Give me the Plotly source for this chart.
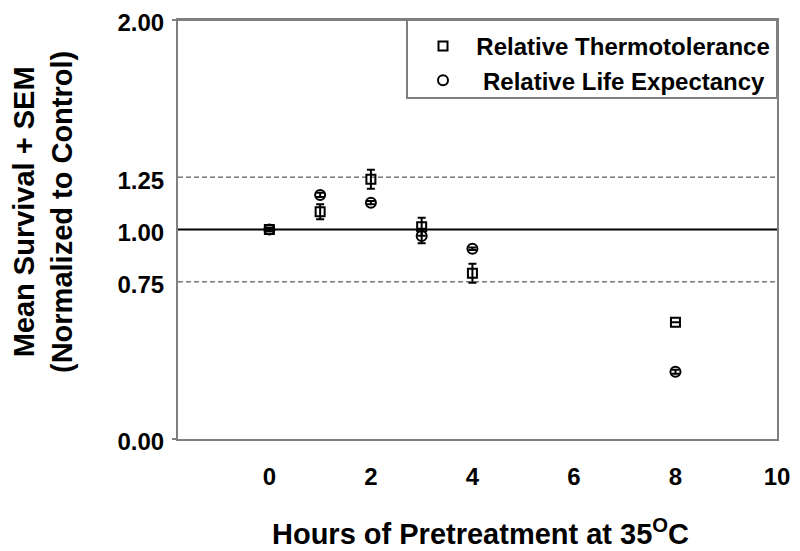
import plotly.graph_objects as go

hours = [0, 1, 2, 3, 4, 8]
thermo = [1.00, 1.085, 1.24, 1.013, 0.791, 0.557]
thermo_sem = [0.008, 0.036, 0.045, 0.043, 0.045, None]
life = [1.00, 1.165, 1.128, 0.969, 0.908, 0.321]
life_sem = [0.008, 0.01, 0.008, 0.035, 0.006, 0.01]

y_ticks = [0.0, 0.75, 1.0, 1.25, 2.0]
y_tick_text = ["0.00", "0.75", "1.00", "1.25", "2.00"]
x_ticks = [0, 2, 4, 6, 8, 10]
dashed_refs = [1.25, 0.75]
solid_ref = 1.0

FONT = "Liberation Sans, Arial, sans-serif"
FRAME = "#7f7f7f"
PW, PH = 599, 419  # plot area size in px

fig = go.Figure()
fig.add_trace(go.Scatter(
    x=hours, y=thermo, mode="markers", name="  Relative Thermotolerance",
    marker=dict(symbol="square-open", size=9, color="black", line=dict(width=2, color="black")),
    error_y=dict(type="data", array=thermo_sem, visible=True, color="black", thickness=2, width=4),
))
fig.add_trace(go.Scatter(
    x=hours, y=life, mode="markers", name="   Relative Life Expectancy",
    marker=dict(symbol="circle-open", size=10, color="black", line=dict(width=2, color="black")),
    error_y=dict(type="data", array=life_sem, visible=True, color="black", thickness=2, width=4),
))

shapes = []
for v in dashed_refs:
    shapes.append(dict(type="line", xref="paper", x0=0, x1=1, yref="y", y0=v, y1=v,
                       line=dict(color="#333333", width=1, dash="5px,3px"), layer="below"))
shapes.append(dict(type="line", xref="paper", x0=0, x1=1, yref="y", y0=solid_ref, y1=solid_ref,
                   line=dict(color="black", width=2), layer="below"))
# plot frame (top edge) and legend box
shapes.append(dict(type="line", xref="paper", yref="paper", x0=-6 / PW, x1=1, y0=1, y1=1,
                   line=dict(color=FRAME, width=2)))
shapes.append(dict(type="line", xref="paper", yref="paper", x0=-6 / PW, x1=0, y0=0, y1=0,
                   line=dict(color=FRAME, width=2)))
shapes.append(dict(type="rect", xref="paper", yref="paper", x0=(407 - 178) / PW, x1=1,
                   y0=(439 - 98) / PH, y1=1, line=dict(color=FRAME, width=2)))
fig.update_layout(shapes=shapes)

fig.add_annotation(
    text="Mean Survival + SEM<br>(Normalized to Control)", textangle=-90,
    xref="paper", yref="paper", x=(43 - 178) / PW, y=(439 - 212) / PH,
    xanchor="center", yanchor="middle", showarrow=False,
    font=dict(family=FONT, size=29, color="black", weight="bold"),
)
fig.add_annotation(
    text="Hours of Pretreatment at 35<sup>O</sup>C",
    xref="paper", yref="paper", x=(480 - 178) / PW, y=(439 - 532) / PH,
    xanchor="center", yanchor="middle", showarrow=False,
    font=dict(family=FONT, size=29, color="black", weight="bold"),
)

# page body adds an 8px offset, so the figure is 8px smaller with margins reduced accordingly
fig.update_layout(
    width=792, height=543,
    margin=dict(l=170, r=23, t=12, b=112, autoexpand=False),
    plot_bgcolor="white", paper_bgcolor="white",
    font=dict(family=FONT, color="black"),
    showlegend=True,
    legend=dict(x=(423 - 178) / PW, y=1 - 4 / PH, xanchor="left", yanchor="top",
                bgcolor="rgba(0,0,0,0)", borderwidth=0,
                font=dict(family=FONT, size=24, color="black", weight="bold"), tracegroupgap=0),
    xaxis=dict(range=[-1.8, 10], tickvals=x_ticks, showgrid=False, zeroline=False, automargin=False,
               showline=True, mirror=True, linecolor=FRAME, linewidth=2, ticklabeloverflow="allow",
               ticks="outside", ticklen=15, tickcolor="rgba(0,0,0,0)",
               tickfont=dict(family=FONT, size=24, color="black", weight="bold")),
    yaxis=dict(range=[0, 2], tickvals=y_ticks, ticktext=y_tick_text, showgrid=False, zeroline=False,
               automargin=False, ticklabeloverflow="allow", ticklabelshift=3,
               showline=True, mirror=True, linecolor=FRAME, linewidth=2,
               ticks="outside", ticklen=7, tickcolor="rgba(0,0,0,0)",
               tickfont=dict(family=FONT, size=24, color="black", weight="bold")),
)

fig.write_html("out.html")
